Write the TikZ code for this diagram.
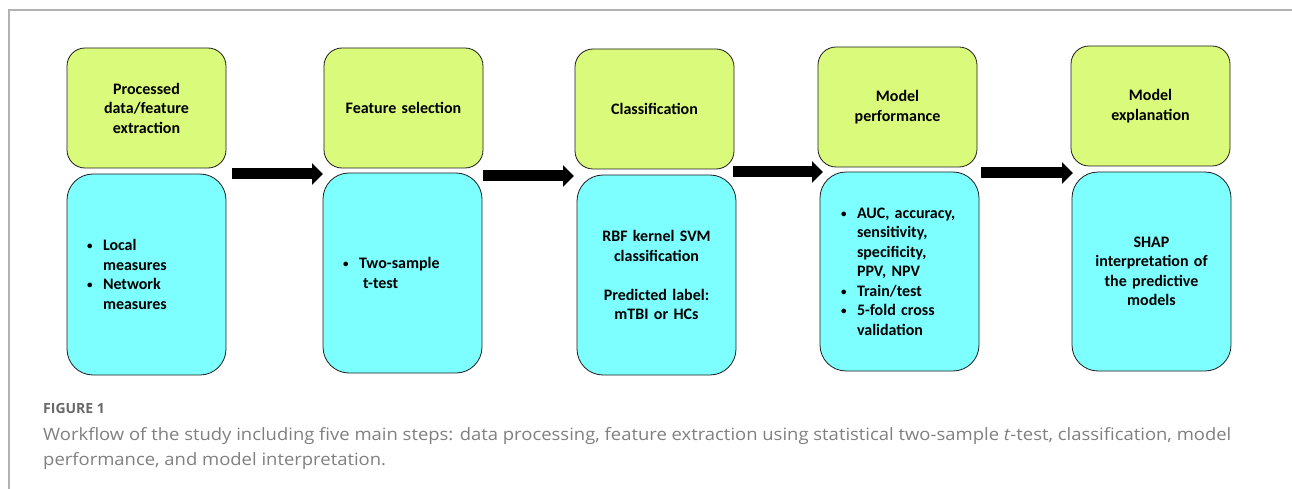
\documentclass[tikz,border=0pt]{standalone}
\usepackage{fontspec}
\setmainfont{Carlito}
\newfontfamily\capfont{Open Sans}[FakeStretch=1.085]
\newfontfamily\figfont{Open Sans}
\usetikzlibrary{arrows.meta}
\definecolor{boxgreen}{RGB}{217,250,122}
\definecolor{boxcyan}{RGB}{125,255,255}
\definecolor{framegray}{RGB}{178,178,178}
\definecolor{capgray}{RGB}{128,128,128}
\definecolor{figgray}{RGB}{105,105,105}
\definecolor{edgegray}{RGB}{30,30,30}
\newcommand{\boxtext}{\bfseries\fontsize{16}{19.5}\selectfont}
\newcommand{\bitem}[1]{\makebox[16pt][l]{\raisebox{1pt}{\fontsize{11}{11}\selectfont•}}#1}
\newcommand{\bcont}[1]{\hspace*{16pt}#1}
\begin{document}
\begin{tikzpicture}[x=1pt,y=-1pt,
  basebox/.style={draw=edgegray, line width=0.8pt, anchor=north west,
    inner ysep=0pt, outer sep=0pt, minimum width=159pt, font=\boxtext},
  greenbox/.style={basebox, fill=boxgreen, rounded corners=18pt,
    minimum height=120pt, align=center, text width=150pt, inner xsep=4.5pt},
  cyanbox/.style={basebox, fill=boxcyan, rounded corners=26pt,
    minimum height=200pt, align=center, text width=150pt, inner xsep=4.5pt},
  listbox/.style={cyanbox, align=left, text width=119pt, inner xsep=20pt},
  bigarrow/.style={draw=black, line width=11pt, -{Triangle[width=21pt,length=11pt]}},
  capline/.style={anchor=base west, inner sep=0pt, text=capgray,
    font=\capfont\fontsize{17}{20}\selectfont}]
\useasboundingbox (0,0) rectangle (1292,489);
\fill[white] (0,0) rectangle (1292,489);
\draw[framegray, line width=1.2pt] (9,489) -- (9,10) -- (1292,10);

% top (green) boxes
\node[greenbox] (g1) at (67,48) {Processed\\data/feature\\extraction};
\node[greenbox] (g2) at (324,48) {Feature selection};
\node[greenbox] (g3) at (575,49) {Classification};
\node[greenbox] (g4) at (818,47) {Model\\performance};
\node[greenbox] (g5) at (1071,46) {Model\\explanation};

% bottom (cyan) boxes
\node[listbox, minimum height=201pt] (b1) at (67,174)
  {\bitem{Local}\\\bcont{measures}\\\bitem{Network}\\\bcont{measures}};
\node[listbox] (b2) at (323,173)
  {\bitem{Two-sample}\\\bcont{\hspace*{4pt}t-test}};
\node[cyanbox] (b3) at (577,175)
  {RBF kernel SVM\\classification\\[19.5pt]Predicted label:\\mTBI or HCs};
\node[listbox, minimum height=199pt, inner xsep=21pt, text width=117pt] (b4) at (820,172)
  {\bitem{AUC, accuracy,}\\\bcont{sensitivity,}\\\bcont{specificity,}\\\bcont{PPV, NPV}\\\bitem{Train/test}\\\bitem{5-fold cross}\\\bcont{validation}};
\node[cyanbox, minimum height=199pt] (b5) at (1072,172)
  {SHAP\\interpretation of\\the predictive\\models};

% arrows
\draw[bigarrow] ([xshift=6pt]b1.north east) -- (b1.north east -| b2.west);
\draw[bigarrow] ([xshift=1pt,yshift=-3pt]b2.north east) -- ([xshift=-3pt,yshift=-1pt]b3.north west);
\draw[bigarrow] ([xshift=-3pt,yshift=3pt]b3.north east) -- ([xshift=3pt]b4.north west);
\draw[bigarrow] ([xshift=2pt,yshift=-1pt]b4.north east) -- ([xshift=1pt,yshift=-1pt]b5.north west);

% caption
\node[anchor=base west, inner sep=0pt, text=figgray,
  font=\figfont\bfseries\fontsize{14}{16}\selectfont] (fig) at (43,413) {FIGURE 1};
\node[capline] (cap1) at (43,440)
  {Workflow of the study including five main steps: data processing, feature extraction using statistical two-sample \textit{t}-test, classification, model};
\node[capline] (cap2) at (43,465) {performance, and model interpretation.};
\end{tikzpicture}
\end{document}
